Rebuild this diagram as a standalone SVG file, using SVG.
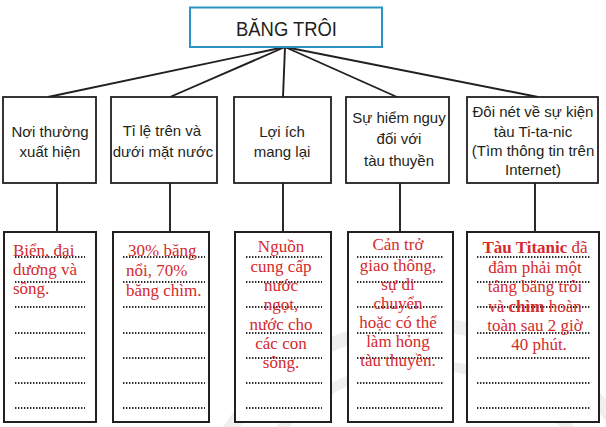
<svg xmlns="http://www.w3.org/2000/svg" width="606" height="427" viewBox="0 0 606 427">
<style>
.hbox{fill:#fff;stroke:#231f20;stroke-width:1.8}
.bbox{fill:#fff;stroke:#231f20;stroke-width:2}
.ht{font-family:"Liberation Sans",Arial,sans-serif;font-size:15px;fill:#231f20;text-anchor:middle}
.rt{font-family:"Liberation Serif","Times New Roman",serif;font-size:17px;fill:#d42a2e}
.mid{text-anchor:middle}
.dots{stroke:#2a2a2a;stroke-width:1.8;stroke-dasharray:1.4 1.6;fill:none}
.conn{stroke:#231f20;stroke-width:1.9;fill:none}
</style>
<rect width="606" height="427" fill="#fff"/>
<g id="watermark" fill="none" stroke="#efefef" stroke-width="14">
<circle cx="425" cy="560" r="235"/>
<circle cx="425" cy="560" r="195" stroke-width="10"/>
</g>
<g id="connectors">
<line class="conn" x1="285" y1="47" x2="48" y2="97"/>
<line class="conn" x1="285" y1="47" x2="170" y2="97"/>
<line class="conn" x1="285" y1="47" x2="283" y2="97"/>
<line class="conn" x1="285" y1="47" x2="397" y2="97"/>
<line class="conn" x1="285" y1="47" x2="538" y2="97"/>
<line class="conn" x1="57" y1="183" x2="57" y2="232"/>
<line class="conn" x1="170" y1="183" x2="170" y2="232"/>
<line class="conn" x1="283" y1="183" x2="283" y2="232"/>
<line class="conn" x1="400" y1="183" x2="400" y2="232"/>
<line class="conn" x1="535" y1="183" x2="535" y2="232"/>
</g>
<g id="title">
<rect x="190" y="7.5" width="192" height="39.5" fill="#fff" stroke="#2b93c6" stroke-width="2"/>
<text x="286.5" y="36" font-family="'Liberation Sans',Arial,sans-serif" font-size="20" fill="#231f20" text-anchor="middle" textLength="101" lengthAdjust="spacingAndGlyphs">BĂNG TRÔI</text>
</g>
<g id="h1">
<rect class="hbox" x="3" y="97" width="93" height="86"/>
<text class="ht" x="50" y="137">Nơi thường</text>
<text class="ht" x="50" y="157">xuất hiện</text>
</g>
<g id="h2">
<rect class="hbox" x="111" y="97" width="106" height="86"/>
<text class="ht" x="162" y="136">Tỉ lệ trên và</text>
<text class="ht" x="163" y="157">dưới mặt nước</text>
</g>
<g id="h3">
<rect class="hbox" x="234" y="97" width="97" height="86"/>
<text class="ht" x="282" y="137">Lợi ích</text>
<text class="ht" x="282" y="157">mang lại</text>
</g>
<g id="h4">
<rect class="hbox" x="346" y="97" width="103" height="86"/>
<text class="ht" x="399" y="123">Sự hiểm nguy</text>
<text class="ht" x="399" y="144">đối với</text>
<text class="ht" x="399" y="166">tàu thuyền</text>
</g>
<g id="h5">
<rect class="hbox" x="467" y="97" width="131" height="86"/>
<text class="ht" x="533" y="117">Đôi nét về sự kiện</text>
<text class="ht" x="533" y="137">tàu Ti-ta-nic</text>
<text class="ht" x="533" y="156">(Tìm thông tin trên</text>
<text class="ht" x="533" y="175">Internet)</text>
</g>
<g id="b1">
<rect class="bbox" x="4" y="232" width="92" height="190"/>
<path class="dots" d="M15 257H85M15 282H85M15 307H85M15 333H85M15 358H85M15 383H85M15 408H85"/>
<text class="rt" x="13" y="256">Biển, đại</text>
<text class="rt" x="13" y="275">dương và</text>
<text class="rt" x="13" y="294">sông.</text>
</g>
<g id="b2">
<rect class="bbox" x="113" y="232" width="96" height="190"/>
<path class="dots" d="M123 257H205M123 282H205M123 307H205M123 333H205M123 358H205M123 383H205M123 408H205"/>
<text class="rt" x="128" y="256">30% băng</text>
<text class="rt" x="126" y="276">nổi, 70%</text>
<text class="rt" x="126" y="296">băng chìm.</text>
</g>
<g id="b3">
<rect class="bbox" x="235" y="232" width="96" height="190"/>
<path class="dots" d="M246 257H322M246 282H322M246 307H322M246 333H322M246 358H322M246 383H322M246 408H322"/>
<text class="rt mid" x="281" y="252">Nguồn</text>
<text class="rt mid" x="281" y="272">cung cấp</text>
<text class="rt mid" x="281" y="291">nước</text>
<text class="rt mid" x="281" y="310">ngọt,</text>
<text class="rt mid" x="281" y="330">nước cho</text>
<text class="rt mid" x="281" y="349">các con</text>
<text class="rt mid" x="281" y="368">sông.</text>
</g>
<g id="b4">
<rect class="bbox" x="348" y="232" width="105" height="190"/>
<path class="dots" d="M357 257H444M357 282H444M357 307H444M357 333H444M357 358H444M357 383H444M357 408H444"/>
<text class="rt mid" x="398" y="250">Cản trở</text>
<text class="rt mid" x="398" y="271">giao thông,</text>
<text class="rt mid" x="398" y="290">sự di</text>
<text class="rt mid" x="398" y="309">chuyển</text>
<text class="rt mid" x="398" y="328">hoặc có thể</text>
<text class="rt mid" x="398" y="347">làm hỏng</text>
<text class="rt mid" x="398" y="366">tàu thuyền.</text>
</g>
<g id="b5">
<rect class="bbox" x="467" y="232" width="132" height="190"/>
<path class="dots" d="M477 257H590M477 282H590M477 307H590M477 333H590M477 358H590M477 383H590M477 408H590"/>
<text class="rt mid" x="535" y="253"><tspan font-weight="bold">Tàu Titanic</tspan> đã</text>
<text class="rt mid" x="535" y="273">đâm phải một</text>
<text class="rt mid" x="535" y="292">tảng băng trôi</text>
<text class="rt mid" x="535" y="312">và <tspan font-weight="bold">chìm</tspan> hoàn</text>
<text class="rt mid" x="535" y="331">toàn sau 2 giờ</text>
<text class="rt mid" x="539" y="350">40 phút.</text>
</g>
</svg>
